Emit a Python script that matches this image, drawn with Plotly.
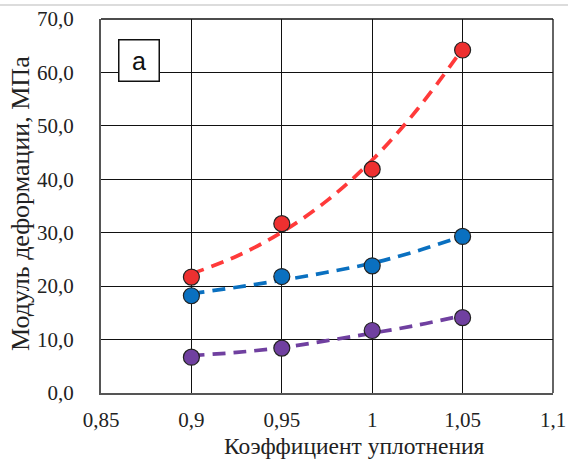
import plotly.graph_objects as go

# Data points
x_points = [0.9, 0.95, 1.0, 1.05]
red_vals = [21.7, 31.7, 41.9, 64.2]
blue_vals = [18.2, 21.8, 23.8, 29.3]
purple_vals = [6.7, 8.4, 11.7, 14.1]

# Trend lines
x_trend = [0.9, 0.925, 0.95, 0.975, 1.0, 1.025, 1.05]
red_trend = [22.3, 25.6, 30.1, 36.0, 43.6, 53.1, 64.4]
blue_trend = [18.6, 19.8, 21.1, 22.6, 24.3, 26.6, 29.4]
purple_trend = [7.0, 7.6, 8.5, 9.8, 11.2, 12.7, 14.5]

x_ticks = [0.85, 0.9, 0.95, 1.0, 1.05, 1.1]
x_tick_labels = ["0,85", "0,9", "0,95", "1", "1,05", "1,1"]
y_ticks = [0, 10, 20, 30, 40, 50, 60, 70]
y_tick_labels = ["0,0", "10,0", "20,0", "30,0", "40,0", "50,0", "60,0", "70,0"]

RED = "#EE3030"
RED_LINE = "#FF3A3A"
BLUE = "#0A70C0"
PURPLE = "#7040A0"

fig = go.Figure()
for tr, col in [(red_trend, RED_LINE), (blue_trend, BLUE), (purple_trend, PURPLE)]:
    fig.add_trace(go.Scatter(x=x_trend, y=tr, mode="lines",
                             line=dict(color=col, width=3.7, dash="13px,8px", shape="spline"),
                             hoverinfo="skip", showlegend=False))
for vals, col in [(red_vals, RED), (blue_vals, BLUE), (purple_vals, PURPLE)]:
    fig.add_trace(go.Scatter(x=x_points, y=vals, mode="markers",
                             marker=dict(color=col, size=16, line=dict(color="#222222", width=1.2)),
                             showlegend=False))

font_serif = "Liberation Serif, Times New Roman, serif"
L, R, T, B = 101, 15, 19, 71
W, H = 568, 464
pw, ph = W - L - R, H - T - B

fig.update_layout(
    width=W, height=H,
    margin=dict(l=L, r=R, t=T, b=B, autoexpand=False),
    paper_bgcolor="white", plot_bgcolor="white",
    font=dict(family=font_serif, color="#222222"),
    xaxis=dict(range=[0.85, 1.1], tickvals=x_ticks, ticktext=x_tick_labels,
               showgrid=True, gridcolor="#111111", gridwidth=1.3,
               showline=True, linecolor="#555555", linewidth=2, mirror=False,
               zeroline=False, ticks="", ticklabelstandoff=7, automargin=False,
               tickfont=dict(size=21, family=font_serif, color="#222222")),
    yaxis=dict(range=[0, 70], tickvals=y_ticks, ticktext=y_tick_labels,
               showgrid=True, gridcolor="#111111", gridwidth=1.3,
               showline=True, linecolor="#555555", linewidth=2, mirror=False,
               zeroline=False, ticks="", ticklabelstandoff=21, automargin=False,
               tickfont=dict(size=21, family=font_serif, color="#222222")),
    shapes=[
        dict(type="line", xref="paper", yref="paper", x0=1, x1=1, y0=0, y1=1,
             line=dict(color="#111111", width=1.3)),
        dict(type="line", xref="paper", yref="paper", x0=0, x1=1, y0=1, y1=1,
             line=dict(color="#111111", width=1.3)),
        dict(type="line", xref="paper", yref="paper", x0=-L / pw, x1=1 + R / pw,
             y0=1 + (T - 5) / ph, y1=1 + (T - 5) / ph,
             line=dict(color="#D0D0D0", width=1.5)),
    ],
    annotations=[
        dict(text="а", xref="paper", yref="paper", x=(138.5 - L) / pw, y=(H - B - 60.5) / ph,
             xanchor="center", yanchor="middle", showarrow=False,
             font=dict(family="Liberation Sans, Arial, sans-serif", size=25, color="#111111"),
             bgcolor="white", bordercolor="#111111", borderwidth=1.5,
             width=37, height=38),
        dict(text="Коэффициент уплотнения", xref="paper", yref="paper",
             x=(354 - L) / pw, y=(H - B - 446) / ph, xanchor="center", yanchor="middle",
             showarrow=False, font=dict(family=font_serif, size=23.5, color="#222222")),
        dict(text="Модуль деформации, МПа", xref="paper", yref="paper", textangle=-90,
             x=(20 - L) / pw, y=(H - B - 204) / ph, xanchor="center", yanchor="middle",
             showarrow=False, font=dict(family=font_serif, size=26, color="#222222")),
    ],
)

fig.write_html("out.html", config={"displayModeBar": False},
               post_script="document.body.style.margin='0';")
